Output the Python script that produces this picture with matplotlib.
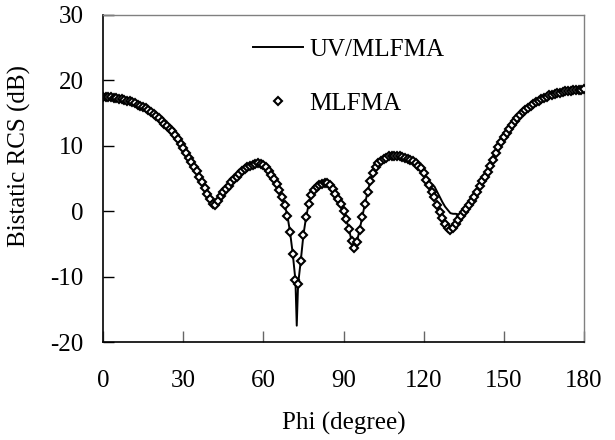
import numpy as np
import matplotlib
matplotlib.use("Agg")
import matplotlib.pyplot as plt
from matplotlib.lines import Line2D

plt.rcParams['font.family'] = ['Liberation Serif', 'DejaVu Serif']
plt.rcParams['axes.unicode_minus'] = False

# MLFMA reference values, one per degree (phi = 0 .. 180)
phi = np.arange(0, 181)
rcs_mlfma = [
    17.4, 17.4, 17.4, 17.4, 17.3, 17.3, 17.2, 17.1, 17.0, 16.9,   # 0-9
    16.8, 16.7, 16.5, 16.3, 16.1, 15.9, 15.7, 15.4, 15.1, 14.8,   # 10-19
    14.5, 14.2, 13.8, 13.4, 13.0, 12.6, 12.2, 11.6, 11.0, 10.3,   # 20-29
    9.6, 8.9, 8.2, 7.5, 6.8, 6.1, 5.3, 4.4, 3.5, 2.6,             # 30-39
    1.8, 1.1, 1.0, 1.6, 2.3, 2.9, 3.4, 3.9, 4.4, 4.9,             # 40-49
    5.3, 5.7, 6.1, 6.4, 6.7, 6.9, 7.1, 7.2, 7.3, 7.2,             # 50-59
    7.0, 6.7, 6.2, 5.5, 4.9, 4.2, 3.2, 2.1, 0.9, -0.7,            # 60-69
    -3.2, -6.5, -10.5, -11.2, -7.6, -3.6, -0.9, 1.1, 2.4, 3.2,    # 70-79
    3.7, 4.0, 4.2, 4.3, 4.3, 4.0, 3.4, 2.7, 1.9, 1.1,             # 80-89
    0.1, -1.2, -2.7, -4.5, -5.6, -4.7, -2.9, -0.9, 1.1, 2.9,      # 90-99
    4.6, 5.8, 6.7, 7.3, 7.7, 8.0, 8.2, 8.4, 8.5, 8.5,             # 100-109
    8.5, 8.4, 8.3, 8.2, 8.0, 7.9, 7.6, 7.3, 6.9, 6.6,             # 110-119
    5.8, 4.8, 4.0, 3.0, 2.2, 1.0, -0.1, -1.1, -1.9, -2.6,         # 120-129
    -2.9, -2.5, -2.0, -1.4, -0.8, -0.2, 0.4, 1.0, 1.6, 2.2,       # 130-139
    3.0, 3.8, 4.6, 5.2, 6.0, 6.9, 7.8, 8.9, 9.8, 10.6,            # 140-149
    11.3, 12.0, 12.6, 13.2, 13.8, 14.3, 14.7, 15.1, 15.5, 15.8,   # 150-159
    16.1, 16.4, 16.7, 16.9, 17.1, 17.3, 17.5, 17.7, 17.8, 17.9,   # 160-169
    18.0, 18.1, 18.2, 18.3, 18.4, 18.4, 18.5, 18.5, 18.6, 18.6,   # 170-179
    18.7,                                                          # 180
]

# UV/MLFMA follows MLFMA except at these angles
uv_phi = [72.5, 122, 123, 124, 125, 126, 127, 128, 129, 130, 131, 132, 133]
uv_rcs = [-17.5, 4.3, 4.0, 3.8, 3.0, 2.2, 1.4, 0.7, 0.2, -0.3, -0.4, -0.4, -0.5]

uv = dict(zip(phi.tolist(), rcs_mlfma))
uv.update(dict(zip(uv_phi, uv_rcs)))
line_phi = sorted(uv)
line_rcs = [uv[p] for p in line_phi]

fig = plt.figure(figsize=(6.15, 4.4), dpi=100)
ax = fig.add_axes([0.1675, 0.2227, 0.7821, 0.7433])

ax.plot(line_phi, line_rcs, color='black', lw=1.4, zorder=2)
ax.plot(phi, rcs_mlfma, ls='none', marker='D', ms=4.4, mfc='white',
        mec='black', mew=1.5, zorder=3)

ax.set_xlim(0, 180)
ax.set_ylim(-20, 30)
ax.set_xticks(range(0, 181, 30))
ax.set_yticks(range(-20, 31, 10))
ax.tick_params(axis='both', direction='in', length=8, width=1, labelsize=18)
ax.tick_params(axis='x', pad=20, color='#666666')
ax.tick_params(axis='y', pad=14)

for s in ['left', 'bottom']:
    ax.spines[s].set_linewidth(1.2)
for s in ['top', 'right']:
    ax.spines[s].set_color('#808080')
    ax.spines[s].set_linewidth(1.0)

ax.set_xlabel('Phi (degree)', fontsize=18, va='center')
ax.xaxis.set_label_coords(0.5, -0.248)
ax.set_ylabel('Bistatic RCS (dB)', fontsize=18, va='center')
ax.yaxis.set_label_coords(-0.173, 0.57)

handles = [Line2D([], [], color='black', lw=1.4),
           Line2D([], [], ls='none', marker='D', ms=4.4, mfc='white', mec='black', mew=1.5)]
ax.legend(handles, ['UV/MLFMA', 'MLFMA'], loc='upper left',
          bbox_to_anchor=(0.411, 0.913), bbox_transform=fig.transFigure,
          frameon=False, fontsize=18, handlelength=2.0, handletextpad=0.25,
          labelspacing=1.25, borderpad=0, borderaxespad=0)

fig.savefig('out.png', dpi=100)
